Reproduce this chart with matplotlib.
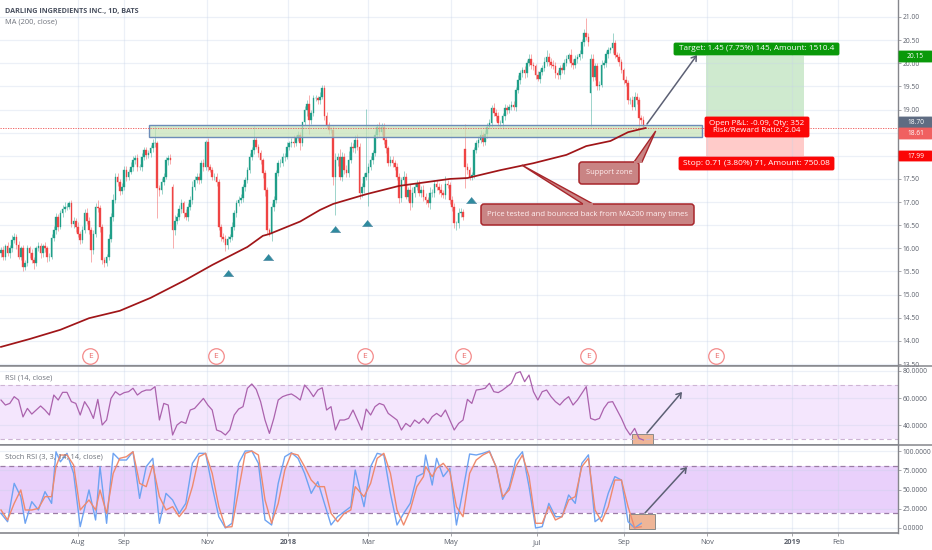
"""
Darling Ingredients daily chart with MA200, RSI and Stoch RSI panes.
Values are read off the screenshot by eye.
"""
import numpy as np
import matplotlib
matplotlib.use("Agg")
import matplotlib.pyplot as plt
from matplotlib.patches import FancyBboxPatch, FancyArrowPatch, Polygon, Rectangle

plt.rcParams['font.family'] = ['Open Sans', 'DejaVu Sans']

W, H = 932, 550

# ---- data ----
closes = [
    15.96, 15.82, 16.04, 15.89, 16.0, 16.18, 16.25, 16.07, 15.82, 16.0,
    15.6, 15.68, 16.0, 15.89, 15.75, 15.68, 16.0, 16.04, 15.89, 16.04,
    16.0, 15.82, 15.82, 16.22, 16.4, 16.68, 16.47, 16.76, 16.86, 16.9,
    16.9, 16.97, 16.53, 16.6, 16.47, 16.32, 16.18, 16.4, 16.76, 16.6,
    16.4, 15.96, 16.32, 16.9, 16.87, 16.47, 15.75, 15.68, 15.82, 16.2,
    16.68, 17.05, 17.55, 17.44, 17.23, 17.33, 17.7, 17.55, 17.66, 17.76,
    17.9, 17.95, 17.76, 17.76, 17.98, 18.13, 18.02, 18.05, 18.16, 18.27,
    18.27, 17.3, 17.26, 17.44, 17.55, 17.9, 17.95, 17.9, 16.4, 16.6,
    16.68, 16.86, 16.97, 16.76, 16.68, 16.9, 17.05, 17.33, 17.48, 17.55,
    17.48, 17.84, 17.76, 18.3, 17.76, 17.7, 17.55, 17.55, 17.44, 16.47,
    16.25, 16.2, 16.07, 16.2, 16.25, 16.47, 16.76, 16.97, 17.05, 17.08,
    17.33, 17.48, 17.7, 17.98, 18.13, 18.34, 18.2, 18.05, 17.9, 17.62,
    17.26, 16.4, 16.32, 16.9, 17.05, 17.62, 17.84, 17.84, 17.98, 17.98,
    18.2, 18.27, 18.3, 18.27, 18.38, 18.45, 18.27, 18.74, 18.99, 19.13,
    18.77, 18.92, 19.24, 19.24, 19.2, 19.28, 19.46, 18.85, 18.67, 18.56,
    18.56, 17.55, 17.91, 17.98, 17.55, 17.98, 17.69, 17.62, 17.91, 18.2,
    18.16, 18.34, 18.2, 17.19, 17.33, 17.55, 17.62, 17.76, 17.91, 18.05,
    18.45, 18.63, 18.52, 18.63, 18.34, 18.16, 17.84, 17.91, 17.84, 17.76,
    17.55, 17.08, 17.48, 17.55, 17.12, 17.26, 16.97, 17.19, 17.33, 17.4,
    17.19, 17.26, 17.12, 17.04, 16.97, 17.19, 17.19, 17.4, 17.33, 17.26,
    17.19, 17.15, 17.4, 17.37, 17.04, 16.9, 16.54, 16.54, 16.76, 16.79,
    16.68, 17.76, 17.69, 17.55, 17.58, 18.12, 18.27, 18.34, 18.45, 18.3,
    18.48, 18.63, 18.7, 19.03, 18.92, 18.85, 18.7, 18.7, 18.85, 19.03,
    18.99, 19.06, 19.1, 19.06, 19.42, 19.64, 19.78, 19.85, 19.78, 20.0,
    20.1, 19.96, 19.93, 19.75, 19.67, 19.82, 19.89, 20.03, 20.14, 20.03,
    19.96, 19.93, 19.78, 19.75, 19.89, 19.85, 20.0, 20.1, 20.18, 20.0,
    19.96, 20.1, 20.14, 20.2, 20.47, 20.65, 20.57, 20.45, 20.1, 19.7,
    19.93, 19.5, 19.53, 19.96, 20.0, 20.2, 20.29, 20.32, 20.43, 20.18,
    20.14, 20.03, 19.85, 19.64, 19.57, 19.2, 19.2, 19.06, 19.28, 19.2,
    18.81, 18.77, 18.63,
]
wick_up = [
    6, 8, 5, 9, 7, 10, 8, 6, 9, 5, 7, 6, 8, 5, 9, 7, 6, 10, 8, 5,
    9, 6, 7, 10, 8, 9, 6, 7, 8, 10, 9, 6, 8, 7, 5, 9, 6, 8, 10, 12,
    7, 6, 8, 9, 14, 6, 5, 7, 6, 10, 9, 12, 8, 7, 6, 9, 7, 8, 6, 10,
    9, 7, 8, 6, 9, 7, 6, 8, 7, 9, 5, 4, 6, 9, 8, 7, 6, 9, 6, 12,
    8, 7, 10, 6, 9, 7, 8, 12, 9, 7, 8, 6, 10, 5, 9, 7, 6, 8, 7, 5,
    6, 8, 9, 7, 5, 9, 6, 7, 8, 9, 6, 7, 5, 8, 6, 9, 7, 5, 8, 6,
    7, 6, 5, 9, 8, 7, 6, 9, 8, 7, 9, 6, 8, 14, 7, 9, 6, 6, 9, 7,
    18, 6, 8, 7, 6, 9, 7, 8, 9, 7, 6, 8, 14, 7, 16, 10, 8, 12, 20, 9,
    7, 10, 14, 8, 9, 7, 6, 8, 9, 7, 8, 6, 9, 7, 8, 7, 6, 9, 8, 7,
    9, 7, 6, 12, 8, 6, 12, 14, 9, 8, 7, 9, 10, 8, 7, 14, 9, 8, 7, 9,
    14, 7, 16, 8, 6, 9, 7, 6, 12, 8, 7, 5, 9, 7, 6, 8, 7, 9, 10, 6,
    8, 7, 9, 6, 12, 10, 9, 7, 8, 9, 6, 7, 8, 9, 7, 10, 8, 6, 9, 7,
    10, 9, 7, 6, 8, 6, 7, 10, 14, 9, 8, 12, 9, 7, 8, 10, 9, 7, 5, 12,
    9, 8, 7, 9, 5, 9, 6, 8, 10, 9, 7, 8, 9, 12, 8, 7, 6, 4, 10, 8,
    6, 9, 7, 5, 8, 6, 7, 9, 10, 8,
    6, 7, 8,
]
wick_dn = [
    9, 7, 8, 6, 9, 8, 7, 9, 6, 8, 9, 6, 7, 9, 6, 12, 7, 6, 10, 8,
    7, 12, 9, 6, 7, 9, 10, 6, 8, 7, 8, 6, 7, 10, 12, 8, 9, 7, 6, 8,
    10, 6, 8, 7, 9, 12, 9, 6, 7, 8, 6, 9, 8, 10, 7, 6, 8, 9, 7, 6,
    8, 7, 9, 6, 8, 7, 9, 6, 8, 7, 9, 6, 12, 8, 7, 6, 9, 7, 6, 12,
    8, 7, 9, 10, 6, 8, 7, 9, 8, 7, 9, 6, 8, 7, 9, 6, 8, 7, 9, 8,
    10, 7, 12, 9, 6, 8, 7, 9, 6, 8, 7, 9, 6, 8, 7, 9, 6, 8, 7, 9,
    12, 8, 6, 16, 9, 7, 6, 8, 7, 9, 6, 7, 9, 8, 6, 7, 14, 6, 8, 12,
    6, 8, 7, 6, 9, 7, 6, 8, 7, 9, 6, 18, 7, 14, 8, 10, 9, 7, 8, 6,
    7, 10, 8, 12, 9, 14, 8, 9, 7, 8, 6, 7, 9, 6, 8, 9, 7, 6, 9, 7,
    8, 9, 7, 12, 6, 10, 14, 7, 9, 8, 6, 9, 10, 8, 7, 12, 9, 8, 7, 9,
    8, 6, 9, 7, 8, 9, 10, 7, 9, 8, 6, 6, 9, 7, 8, 6, 7, 9, 6, 8,
    7, 9, 6, 8, 7, 9, 6, 8, 12, 7, 9, 6, 8, 7, 9, 6, 8, 7, 9, 8,
    6, 9, 7, 8, 6, 9, 7, 6, 8, 9, 7, 6, 9, 8, 10, 6, 8, 7, 6, 9,
    8, 6, 9, 7, 8, 9, 6, 8, 7, 9, 6, 8, 7, 5, 6, 9, 8, 6, 9, 7,
    6, 9, 7, 8, 6, 9, 8, 7, 6, 9,
    6, 8, 5,
]
gap_bars = [78, 211, 268]
gap_opens = [17.33, 18.15, 19.35]
spike_high_bars = [70, 115, 137, 146, 166, 211, 266, 278]
spike_highs = [18.64, 18.64, 18.72, 19.52, 19.02, 18.69, 20.97, 20.65]
spike_low_bars = [41, 47, 71, 78, 140, 152, 167, 207, 211, 268, 290]
spike_lows = [15.7, 15.6, 16.65, 16.0, 18.48, 16.72, 16.92, 16.39, 17.3, 18.63, 18.42]

ma_bars = [0, 13, 27, 40, 54, 68, 84, 96, 112, 119, 122, 136, 145, 151, 166, 181,
           204, 212, 227, 242, 257, 266, 277, 285, 291, 293]
ma200 = [13.87, 14.04, 14.24, 14.49, 14.65, 14.93, 15.32, 15.64, 16.03, 16.27, 16.31, 16.58,
         16.83, 16.96, 17.17, 17.35, 17.50, 17.52, 17.69, 17.84, 18.02, 18.21, 18.32, 18.51,
         18.58, 18.60]

rsi = [
    58.5, 54.8, 56, 61, 58.5, 46, 52.3, 48.1, 51.1, 54.1,
    51.1, 47.4, 62.2, 58.5, 64.2, 64.2, 57.3, 56, 47.4, 57.3,
    52.3, 44.9, 59, 40, 43.7, 59.7, 64.7, 62.2, 64, 64.7,
    67.2, 62.2, 64.7, 65.9, 65.9, 68.4, 43.7, 56, 54.8, 32.6,
    40, 42.5, 41.2, 51.1, 52.3, 56, 59.7, 54.8, 51.1, 36.3,
    35.1, 32.6, 36.3, 47.4, 51.8, 53.6, 67.2, 70.4, 66.4, 57.3,
    43.7, 33.8, 44.9, 58.5, 61, 62.2, 63, 61, 58.5, 69.6,
    65.9, 61, 65.9, 67.6, 51.1, 53.6, 36.3, 43.7, 43.7, 44.9,
    51.1, 43.7, 36.3, 51.8, 47.4, 53.6, 56, 54.8, 48.6, 46.2,
    43.7, 36.3, 41.2, 38.8, 43.7, 41.2, 44.9, 41.2, 46.2, 48.6,
    46.2, 51.1, 43.7, 36.3, 41.2, 43.7, 59, 56,
    65.9, 66.4, 67.2, 70.9, 64.7, 64, 65.9, 68.4, 70.9, 78.3,
    79.5, 72.1, 77, 64.7, 58.5, 64.7, 65.9, 61, 57.3, 54.8,
    58.5, 61, 54.8, 58.5, 63.5, 68.4, 44.9, 43.7, 44.9, 52.3,
    56.8, 57.3, 51.1, 44.9, 37.5, 32.6, 37.5, 30.1, 28.9,
]

stoch_bars = [
    0, 3, 6, 9, 11, 14, 17, 20, 23, 25, 27, 30, 33, 36, 40, 43, 45, 48, 51, 54,
    57, 60, 63, 66, 69, 72, 75, 78, 81, 84, 87, 90, 93, 96, 99, 102, 105, 108, 111, 114,
    117, 120, 123, 126, 129, 132, 135, 138, 141, 144, 147, 150, 153, 156, 159, 161, 165, 168, 171, 174,
    177, 180, 183, 186, 189, 192, 193, 196, 198, 201, 204, 207, 210, 213,
    216, 219, 222, 225, 228, 231, 234, 237, 240, 243, 246, 249, 252, 255, 258, 261, 264, 267,
    270, 273, 276, 279, 282, 285, 288, 291,
]
stoch_k = [
    19, 8.2, 58, 40.7, 6.1, 34.2, 23.4, 47.2, 32, 99, 86, 97, 71, 1.7, 49.4, 10.4, 79.7, 6.1, 97, 88.3,
    88.3, 99.1, 38.5, 79.7, 90.5, 6.1, 45, 36.4, 19, 32, 84, 97, 97, 53.7, 14.7, 0, 6.1, 84, 100, 100,
    84, 10.4, 3.9, 58, 92.6, 97.8, 90.5, 71, 45, 60.2, 32, 3.9, 14.7, 21.2, 27.7, 75.3, 27.7, 79.7, 97, 94.8,
    45, 3.9, 19, 32, 66.7, 71, 94.8, 55.8, 90.5, 66.7, 77.5, 3.9, 49.4, 96.1,
    94.8, 97, 100, 79.7, 37.2, 53.7, 88.3, 99, 53.7, 0, 1.7, 32, 14.7, 14.7, 42.9, 32, 84, 95,
    8.2, 14.7, 45, 66.7, 62.3, 8.2, 0, 6.1,
]
stoch_d = [
    23.4, 10.4, 32, 49.4, 23.4, 23.4, 25.5, 40.7, 40.7, 79.7, 94.8, 94.8, 81.8, 23.4, 36.4, 23.4, 49.4, 19, 71, 90.5,
    92.6, 99.1, 58, 53.7, 81.8, 40.7, 23.4, 27.7, 14.7, 25.5, 53.7, 92.6, 97, 71, 27.7, 0.9, 1.7, 49.4, 97, 100,
    94.8, 36.4, 6.1, 32, 75.3, 97, 94.8, 79.7, 62.3, 53.7, 53.7, 19, 8.2, 19, 23.4, 53.7, 40.7, 58, 90.5, 97,
    71, 23.4, 3.9, 23.4, 53.7, 66.7, 79.7, 66.7, 77.5, 84, 73.2, 27.7, 14.7, 71,
    88.3, 94.8, 99.1, 79.7, 40.7, 49.4, 79.7, 94.8, 66.7, 6.1, 6.1, 27.7, 10.4, 14.7, 36.4, 40.7, 79.7, 90.5,
    23.4, 8.2, 27.7, 62.3, 62.3, 27.7, 0, 1.7,
]

support_triangle_bars = [103, 121.5, 152, 166.5, 213.5]
support_triangle_prices = [15.47, 15.81, 16.42, 16.55, 17.04]
earnings_bars = [40.5, 97.5, 165.3, 210, 267, 325]
earnings_level = 13.67

target_price, entry_price, stop_price = 20.15, 18.70, 17.99
last_price = 18.61
zone_low, zone_high = 18.41, 18.67

price_ticks = [13.5, 14, 14.5, 15, 15.5, 16, 16.5, 17, 17.5, 18, 18.5, 19, 19.5, 20, 20.5, 21]
hidden_price_labels = [18, 18.5]
date_ticks = [35, 56, 93.6, 130.5, 166.8, 204.5, 243.6, 283.2, 320.9, 359.5, 380.5]
date_labels = ['Aug', 'Sep', 'Nov', '2018', 'Mar', 'May', 'Jul', 'Sep', 'Nov', '2019', 'Feb']

# ---- colours ----
UP = '#1f9e88'
DOWN = '#ef4444'
GRID = '#c6d3e8'
AXIS = '#85868c'
TEXT = '#5a5f6a'
NOTE_FACE = '#c98484'
NOTE_EDGE = '#a8262b'
ARROW = '#5c6074'
FS = 5.4
SCALE_FS = 4.8


def pane(x0, y0, x1, y1):
    """Axes placed by pixel box, y counted from the top of the image."""
    return fig.add_axes([x0 / W, 1 - y1 / H, (x1 - x0) / W, (y1 - y0) / H])


fig = plt.figure(figsize=(W / 100, H / 100), dpi=100, facecolor='white')
ax_price = pane(0, 0, 898, 366)
ax_rsi = pane(0, 366, 898, 445)
ax_stoch = pane(0, 445, 898, 533)

for ax in (ax_price, ax_rsi, ax_stoch):
    ax.set_xlim(-0.45, 407.7)
    ax.set_xticks(date_ticks)
    ax.grid(True, color=GRID, lw=0.9, alpha=0.32, zorder=0.8)
    ax.yaxis.tick_right()
    ax.tick_params(axis='y', length=2, width=0.5, color=AXIS, labelsize=SCALE_FS, labelcolor=TEXT, pad=1.5)
    ax.tick_params(axis='x', length=0, labelbottom=False)
    for side in ('top', 'left'):
        ax.spines[side].set_visible(False)
    ax.spines['right'].set_color(AXIS)
    ax.spines['bottom'].set_color(AXIS)
    ax.spines['right'].set_linewidth(1.0)
    ax.spines['bottom'].set_linewidth(1.2)

# ---- price pane ----
ax_price.set_ylim(13.457, 21.367)
ax_price.set_yticks(price_ticks)
ax_price.set_yticklabels(['' if p in hidden_price_labels else f'{p:.2f}' for p in price_ticks])

bars = np.arange(len(closes))
c = np.array(closes)
o = np.concatenate([[15.9], c[:-1]])
o[gap_bars] = gap_opens
highs = np.maximum(o, c) + np.array(wick_up) / 100
lows = np.minimum(o, c) - np.array(wick_dn) / 100
highs[spike_high_bars] = spike_highs
lows[spike_low_bars] = spike_lows
colors = np.where(c >= o, UP, DOWN)

ax_price.vlines(bars, lows, highs, colors=colors, lw=0.55, alpha=0.55, zorder=2)
ax_price.bar(bars, np.abs(c - o), bottom=np.minimum(o, c), width=0.75, color=colors, lw=0.25,
             edgecolor=colors, zorder=3)

# support band and last price line
ax_price.add_patch(Rectangle((67.3, zone_low), 251.3, zone_high - zone_low, facecolor=(0.78, 0.89, 0.72, 0.72),
                             edgecolor='#6c8cb8', lw=1.0, zorder=4))
ax_price.axhline(last_price, color='#f05050', lw=0.6, ls=(0, (1.5, 1.5)), zorder=5)
ax_price.plot(ma_bars, ma200, color='#a01518', lw=1.25, zorder=6)

# long position boxes
ax_price.add_patch(Rectangle((320.5, entry_price), 44.5, target_price - entry_price, facecolor='#cfeacf',
                             edgecolor='none', zorder=1.5))
ax_price.add_patch(Rectangle((320.5, stop_price), 44.5, entry_price - stop_price, facecolor='#ffcbc9',
                             edgecolor='none', zorder=1.5))

ax_price.scatter(support_triangle_bars, support_triangle_prices, marker=[(-1.6, -1), (1.6, -1), (0, 1)],
                 s=55, color='#2f8a9e', edgecolor='#5f8fa8', lw=0.4, zorder=7)

ax_price.scatter(earnings_bars, [earnings_level] * len(earnings_bars), s=125, facecolor='white',
                 edgecolor='#f48a8a', lw=0.9, zorder=7)
for b in earnings_bars:
    ax_price.text(b, earnings_level, 'E', color='#e96a6a', fontsize=6, ha='center', va='center', zorder=8)

# ---- RSI pane ----
ax_rsi.set_ylim(25.2, 83.7)
ax_rsi.set_yticks([40, 60, 80])
ax_rsi.set_yticklabels(['40.0000', '60.0000', '80.0000'])
ax_rsi.axhspan(30, 70, facecolor='#f4e6fd', zorder=0.5)
for lvl in (30, 70):
    ax_rsi.axhline(lvl, color='#cdb4d4', lw=0.8, ls=(0, (4, 3)), zorder=2.5)
ax_rsi.add_patch(Rectangle((287, 25.2), 9.5, 8.1, facecolor='#efb597', edgecolor='#8a8a8a', lw=0.7, zorder=2))
ax_rsi.plot(np.arange(0, 2 * len(rsi), 2), rsi, color='#ab62ad', lw=0.9, zorder=3)

# ---- Stoch RSI pane ----
ax_stoch.set_ylim(-6.5, 107.8)
ax_stoch.set_yticks([0, 25, 50, 75, 100])
ax_stoch.set_yticklabels(['0.0000', '25.0000', '50.0000', '75.0000', '100.0000'])
ax_stoch.axhspan(20, 80, facecolor='#e9d0fb', zorder=0.5)
for lvl in (20, 80):
    ax_stoch.axhline(lvl, color='#9b7ca6', lw=0.9, ls=(0, (4, 3)), zorder=1)
ax_stoch.add_patch(Rectangle((285.5, -1.3), 11.8, 19.5, facecolor='#efb597', edgecolor='#8a8a8a', lw=0.7, zorder=2))
ax_stoch.plot(stoch_bars, stoch_k, color='#6ea3f2', lw=1.0, zorder=3)
ax_stoch.plot(stoch_bars, stoch_d, color='#ef8a6e', lw=1.0, zorder=4)

ax_stoch.tick_params(axis='x', labelbottom=True, labelsize=FS, labelcolor=TEXT, pad=2.5, length=2, width=0.5, color=AXIS)
ax_stoch.set_xticklabels(date_labels)
for lbl in ax_stoch.get_xticklabels():
    if lbl.get_text() in ('2018', '2019'):
        lbl.set_fontweight('bold')

# ---- overlay for drawings, drawn in image pixels ----
over = fig.add_axes([0, 0, 1, 1], facecolor='none')
over.set_xlim(0, W)
over.set_ylim(H, 0)
over.axis('off')

# pane separators run through the price scale as well
over.plot([0, W], [366, 366], color=AXIS, lw=1.1)
over.plot([0, W], [445, 445], color=AXIS, lw=1.1)


def label(x0, y0, x1, y1, text, face, color='white', edge=None, size=FS, rounding=1.5, lw=0.6):
    over.add_patch(FancyBboxPatch((x0, y0), x1 - x0, y1 - y0, boxstyle=f'round,pad=0,rounding_size={rounding}',
                                  facecolor=face, edgecolor=edge or face, lw=lw, zorder=10))
    over.text((x0 + x1) / 2, (y0 + y1) / 2, text, color=color, fontsize=size, ha='center', va='center',
              linespacing=0.9, zorder=11)


def callout(x0, y0, x1, y1, text, tail, size):
    over.add_patch(Polygon(tail, closed=True, facecolor=NOTE_FACE, edgecolor=NOTE_EDGE, lw=1.0, zorder=9))
    label(x0, y0, x1, y1, text, NOTE_FACE, color='#fff0f0', edge=NOTE_EDGE, size=size, rounding=3, lw=1.1)
    over.plot([tail[1][0] - 1, tail[2][0] + 1], [y0, y0], color=NOTE_FACE, lw=1.4, zorder=12)


def arrow(start, end):
    over.add_patch(FancyArrowPatch(start, end, arrowstyle='->,head_length=3.2,head_width=2.2', color=ARROW,
                                   lw=1.1, shrinkA=0, shrinkB=0, zorder=9))


callout(481, 204, 694, 225, 'Price tested and bounced back from MA200 many times',
        [(521.7, 165), (593, 204), (583, 204)], 5.55)
callout(579, 162, 639, 184, 'Support zone', [(655.7, 131), (642, 162), (634, 162)], 5.4)

arrow((647, 124), (697, 55))
arrow((647, 433), (682, 392))
arrow((645, 513), (687, 467))

label(674, 43, 839, 55, 'Target: 1.45 (7.75%) 145, Amount: 1510.4', '#0a990a', size=5.9)
label(705, 117, 809, 137, 'Open P&L: -0.09, Qty: 352\nRisk/Reward Ratio: 2.04', '#fb0606', size=5.8)
label(679, 157, 834, 170, 'Stop: 0.71 (3.80%) 71, Amount: 750.08', '#fb0606', size=6)

# price scale badges
label(899, 51, 932, 62, '20.15', '#0a990a', size=SCALE_FS, rounding=0.5)
label(899, 117, 932, 128, '18.70', '#5f6c82', size=SCALE_FS, rounding=0.5)
label(899, 128, 932, 139, '18.61', '#f06060', size=SCALE_FS, rounding=0.5)
label(899, 151, 932, 161, '17.99', '#fb0606', size=SCALE_FS, rounding=0.5)

# pane captions
over.text(5, 11, 'DARLING INGREDIENTS INC., 1D, BATS', color='#4a5160', fontsize=5.2, fontweight='bold', va='center')
over.text(5, 22, 'MA (200, close)', color='#6f737c', fontsize=FS, va='center')
over.text(5, 378, 'RSI (14, close)', color='#6f737c', fontsize=FS, va='center')
over.text(5, 457, 'Stoch RSI (3, 3, 14, 14, close)', color='#6f737c', fontsize=FS, va='center')

fig.savefig('out.png', dpi=100)
